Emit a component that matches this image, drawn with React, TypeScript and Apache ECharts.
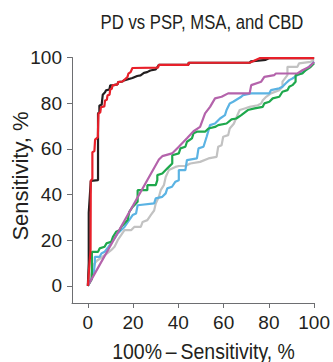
import React, { useEffect, useRef } from "react";
import * as echarts from "echarts";

const titleText = "PD vs PSP, MSA, and CBD";
const xTitle = "100%\u2009\u2013\u2009Sensitivity, %";
const yTitle = "Sensitivity, %";
const tickValues = [0, 20, 40, 60, 80, 100];

const redCurve = [[0,0],[0.6,8],[1.2,16],[1.3,46],[2,47],[2,58.5],[2.9,59],[3.2,64],[4.4,65],[4.7,75.5],[5.5,76],[5.8,78.3],[7.3,78.6],[7.6,81.2],[8.4,81.5],[8.7,83.4],[9.6,83.7],[9.9,86],[10.6,86.3],[10.9,87.8],[13.1,88.2],[13.4,89.2],[15.3,89.5],[17.5,91.4],[17.9,92.9],[18.9,93.6],[19.7,95.4],[31,95.6],[31.4,96.8],[44.5,96.8],[44.5,97.7],[71.5,97.7],[75.9,99.7],[100,99.7]];
const blackCurve = [[0,0],[0.4,10],[0.4,32],[1.3,46],[4.5,46.3],[4.5,75.5],[5.1,76],[5.1,79],[6.1,79.3],[6.6,83.7],[7.6,84.8],[8,85.6],[9.5,86],[9.9,87.8],[10.9,87.8],[13.1,88.2],[13.4,89.2],[15.3,89.5],[16,90],[19.7,91],[21.8,91.9],[23.3,92.2],[24.8,93.3],[26.2,93.6],[27.6,94.3],[30,94.8],[31.4,96.8],[44.5,96.8],[44.5,97.7],[71.5,97.7],[72,98.3],[78.6,99],[80,99.7],[100,99.7]];
const purpleCurve = [[0,0],[31.4,55.3],[32.9,56.8],[37.2,58],[40.2,60.9],[43.8,64.6],[46.7,67.7],[49.6,69.6],[51.8,75.5],[54,78.4],[56.2,82.1],[59.1,82.8],[62,84.3],[71.5,84.3],[72.2,87.9],[76.6,89.4],[78,91.5],[82.4,92.3],[83.1,93],[92.6,93],[94.8,94.4],[97.7,95.8],[100,98]];
const greenCurve = [[0,0],[1.8,3],[1.8,14.9],[4.5,14.9],[5.2,16.4],[7.4,17.1],[8.2,18.6],[10.3,19.3],[11.1,21.5],[12.5,23.7],[14,24.4],[14.7,25.8],[17.6,28.8],[18.3,32.4],[19.8,34.6],[22,36.8],[22,41.9],[26.3,41.9],[26.3,44.1],[30,44.1],[30.7,46.3],[30.7,48.5],[32.9,49.2],[34.4,50.7],[35.8,52.1],[37.3,53.6],[37.3,57.2],[40.2,58],[40.9,60.2],[43.1,60.9],[43.8,63.1],[46,64.6],[46.7,66.8],[48.2,67.5],[51.8,67.5],[53.3,68.9],[56.2,69.6],[57.6,70.4],[61.3,71.1],[63.5,72.9],[65.6,73.3],[67.8,74.8],[70.7,77],[73.7,77.7],[77.3,78.4],[78,79.9],[80.2,80.6],[81.7,82.1],[84.6,82.8],[86,85],[88.2,85.7],[89,87.2],[90.4,87.9],[91.8,89.4],[91.8,92.3],[94.8,93],[96.2,94.4],[98.4,95.8],[100,97.5]];
const blueCurve = [[0,0],[2.5,5],[3.1,9.8],[3.1,12.7],[5.2,12.7],[6,14.2],[7.4,14.9],[9,17],[11.8,20.8],[13.2,23],[16.2,25.8],[19.8,31],[21.3,31.7],[22,35.3],[29.3,36.1],[30,38.3],[32.9,39],[34.4,40.5],[35.1,42.7],[37.2,43.4],[38.7,45.6],[40.2,46.3],[40.2,50.7],[43.1,50.7],[43.8,55.1],[48.2,55.8],[48.9,60.2],[51.1,60.9],[52.5,65.3],[54,70.4],[56.2,71.1],[58.4,73.3],[60.6,74.8],[61.3,77],[62.7,79.9],[64.2,80.6],[67.8,82.8],[68.6,83.5],[72.2,84.3],[80.2,84.3],[80.9,85.7],[84.6,86.5],[86,87.2],[87.5,88.7],[89,90.1],[90.4,90.8],[92.6,92.3],[94,93],[96.2,94.4],[98.4,96.6],[100,98.1]];
const grayCurve = [[0,0],[1.4,4.7],[2.2,9],[4,11],[7.4,13.4],[10.3,15.6],[11.8,17.1],[13.2,20],[14.7,22.2],[16.2,24.4],[19.1,24.4],[20.5,25.8],[23.4,25.8],[24.2,28],[26.3,28.8],[27.8,31],[29.3,33],[30,36.1],[31.4,39],[32.2,41.9],[33.6,44.1],[34.4,47.7],[35.8,50.7],[38.7,52.1],[40.2,52.5],[43.1,52.5],[45.3,53.6],[49.6,54.3],[53.3,55.8],[56.9,56.5],[57.6,60.9],[59.1,61.6],[59.8,65.3],[62,66],[62.7,68.9],[64.5,71],[66.4,75.5],[67.1,77],[69.3,77.7],[71.5,78.4],[75.1,79.1],[76.6,79.9],[77.3,81.3],[78.8,82.8],[80.9,84.3],[84.6,85.7],[86,87.2],[86,89.4],[88.2,92.3],[88.2,95.9],[92.6,95.9],[93.3,97.4],[98.4,98.1],[100,98.8]];

const FONT = "'Liberation Sans', Arial, sans-serif";
const TEXT = "#231f20";
const AXIS = "#6d6e71";

export default function App() {
  const ref = useRef<HTMLDivElement>(null);
  useEffect(() => {
    if (!ref.current) return;
    const chart = echarts.init(ref.current, null, { renderer: "svg" });
    const mk = (data: number[][], color: string) => ({
      type: "line",
      data,
      symbol: "none",
      lineStyle: { color, width: 2.2 },
      silent: true,
    });
    chart.setOption({
      animation: false,
      backgroundColor: "#ffffff",
      grid: { left: 72, right: 16, top: 57.5, bottom: 59, containLabel: false },
      xAxis: {
        type: "value",
        min: -7,
        max: 100,
        splitLine: { show: false },
        axisLine: { show: true, onZero: false, lineStyle: { color: AXIS, width: 1 } },
        axisTick: { show: true, customValues: tickValues, length: 5, lineStyle: { color: AXIS } },
        axisLabel: { customValues: tickValues, margin: 10, fontSize: 19, fontFamily: FONT, color: TEXT },
      },
      yAxis: {
        type: "value",
        min: -7.5,
        max: 100,
        splitLine: { show: false },
        axisLine: { show: true, onZero: false, lineStyle: { color: AXIS, width: 1 } },
        axisTick: { show: true, customValues: tickValues, length: 5, lineStyle: { color: AXIS } },
        axisLabel: { customValues: tickValues, margin: 10, fontSize: 19, fontFamily: FONT, color: TEXT },
      },
      graphic: [
        { type: "text", x: 202, y: 22, scaleX: 0.835, style: { text: titleText, fontSize: 20, fontFamily: FONT, fill: TEXT, textAlign: "center", textVerticalAlign: "middle" } },
        { type: "text", x: 203.5, y: 351, scaleX: 0.885, style: { text: xTitle, fontSize: 22, fontFamily: FONT, fill: TEXT, textAlign: "center", textVerticalAlign: "middle" } },
        { type: "text", x: 20, y: 176, rotation: Math.PI / 2, style: { text: yTitle, fontSize: 22, fontFamily: FONT, fill: TEXT, textAlign: "center", textVerticalAlign: "middle" } },
      ],
      series: [
        mk(grayCurve, "#c2c2c2"),
        mk(blueCurve, "#5bb3e3"),
        mk(greenCurve, "#1ea84c"),
        mk(purpleCurve, "#b463ab"),
        mk(blackCurve, "#231f20"),
        mk(redCurve, "#e8202a"),
      ],
    });
    return () => chart.dispose();
  }, []);
  return <div ref={ref} style={{ width: 333, height: 362, position: "absolute", left: 0, top: 0 }} />;
}
